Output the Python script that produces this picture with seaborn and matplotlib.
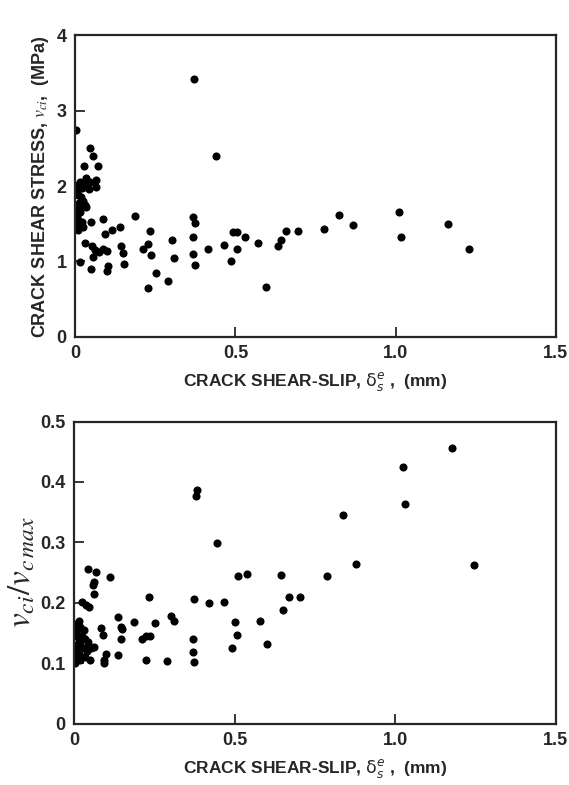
import numpy as np
import pandas as pd
import matplotlib
matplotlib.use("Agg")
import matplotlib.pyplot as plt
import seaborn as sns

# top panel: crack shear stress (MPa) vs crack shear-slip (mm)
slip_top = [
    0.372, 0.002, 0.438, 0.045, 0.057, 0.029, 0.071, 0.034, 0.065, 0.047,
    0.065, 0.005, 0.042, 0.003, 0.008, 0.015, 0.020, 0.010, 0.018, 0.025,
    0.012, 0.030, 0.020, 0.008, 0.015, 0.005, 0.010, 0.020, 0.005, 0.015,
    0.025, 0.010, 0.003, 0.035, 0.040, 0.028, 0.050, 0.086, 0.187, 0.114,
    0.140, 0.093, 0.031, 0.052, 0.062, 0.075, 0.088, 0.098, 0.016, 0.050,
    0.055, 0.104, 0.101, 0.142, 0.149, 0.151, 0.213, 0.227, 0.234, 0.236,
    0.227, 0.252, 0.289, 0.301, 0.309, 0.367, 0.374, 0.367, 0.367, 0.374,
    0.416, 0.463, 0.494, 0.504, 0.485, 0.504, 0.531, 0.572, 0.594, 0.634,
    0.642, 0.658, 0.696, 0.776, 0.823, 0.866, 1.009, 1.018, 1.163, 1.230,
]
stress_top = [
    3.42, 2.75, 2.40, 2.51, 2.40, 2.26, 2.26, 2.11, 2.08, 2.05,
    1.99, 1.92, 1.96, 1.95, 2.02, 2.05, 1.98, 1.88, 1.85, 1.80,
    1.78, 1.75, 1.72, 1.70, 1.65, 1.60, 1.55, 1.52, 1.50, 1.47,
    1.45, 1.42, 1.45, 1.72, 1.98, 2.05, 1.52, 1.56, 1.60, 1.42,
    1.45, 1.36, 1.25, 1.21, 1.15, 1.13, 1.17, 1.14, 0.99, 0.90,
    1.06, 0.94, 0.87, 1.20, 1.11, 0.96, 1.17, 1.23, 1.40, 1.08,
    0.65, 0.85, 0.74, 1.29, 1.04, 1.59, 1.51, 1.33, 1.10, 0.95,
    1.17, 1.22, 1.39, 1.39, 1.00, 1.16, 1.33, 1.24, 0.66, 1.21,
    1.29, 1.41, 1.40, 1.43, 1.62, 1.48, 1.65, 1.32, 1.50, 1.16,
]

# bottom panel: normalised shear stress vs crack shear-slip (mm)
slip_bot = [
    0.383, 0.379, 0.444, 0.044, 0.070, 0.063, 0.060, 0.063, 0.113, 0.026,
    0.037, 0.047, 0.235, 0.374, 0.419, 0.466, 0.512, 0.538, 0.645, 0.668,
    0.705, 0.652, 0.138, 0.186, 0.252, 0.302, 0.310, 0.501, 0.580, 0.147,
    0.149, 0.084, 0.089, 0.147, 0.213, 0.225, 0.236, 0.371, 0.508, 0.600,
    0.491, 0.369, 0.374, 0.138, 0.100, 0.092, 0.094, 0.225, 0.289, 0.052,
    0.063, 0.050, 0.005, 0.015, 0.020, 0.010, 0.030, 0.005, 0.025, 0.015,
    0.035, 0.005, 0.020, 0.010, 0.030, 0.005, 0.015, 0.025, 0.010, 0.020,
    0.035, 0.003, 0.040, 0.045, 1.178, 1.023, 1.031, 0.836, 0.879, 0.788,
    1.245,
]
ratio_bot = [
    0.386, 0.376, 0.299, 0.256, 0.251, 0.235, 0.230, 0.215, 0.242, 0.202,
    0.197, 0.194, 0.210, 0.206, 0.199, 0.202, 0.244, 0.247, 0.246, 0.210,
    0.210, 0.188, 0.177, 0.168, 0.167, 0.179, 0.170, 0.169, 0.170, 0.160,
    0.156, 0.159, 0.147, 0.140, 0.140, 0.145, 0.145, 0.140, 0.147, 0.132,
    0.125, 0.119, 0.103, 0.114, 0.115, 0.105, 0.101, 0.106, 0.104, 0.125,
    0.127, 0.105, 0.165, 0.170, 0.160, 0.155, 0.155, 0.145, 0.145, 0.140,
    0.140, 0.130, 0.130, 0.125, 0.125, 0.115, 0.115, 0.110, 0.105, 0.105,
    0.110, 0.100, 0.120, 0.135, 0.456, 0.425, 0.364, 0.345, 0.265, 0.244,
    0.262,
]

x_ticks = [0, 0.5, 1.0, 1.5]
x_tick_labels = ["0", "0.5", "1.0", "1.5"]
y_ticks_top = [0, 1, 2, 3, 4]
y_ticks_bot = [0, 0.1, 0.2, 0.3, 0.4, 0.5]
y_tick_labels_bot = ["0", "0.1", "0.2", "0.3", "0.4", "0.5"]

sns.set_style("ticks")
plt.rcParams["font.family"] = ["Liberation Sans", "DejaVu Sans"]
plt.rcParams["mathtext.fontset"] = "stix"
plt.rcParams["axes.linewidth"] = 1.6
plt.rcParams["xtick.major.width"] = 1.3
plt.rcParams["ytick.major.width"] = 1.3

top_df = pd.DataFrame({"slip": slip_top, "stress": stress_top})
bot_df = pd.DataFrame({"slip": slip_bot, "ratio": ratio_bot})

fig = plt.figure(figsize=(5.69, 7.85), dpi=100)
ax1 = fig.add_axes([0.132, 0.571, 0.845, 0.384])
ax2 = fig.add_axes([0.130, 0.078, 0.847, 0.385])

sns.scatterplot(data=top_df, x="slip", y="stress", ax=ax1, color="black",
                s=34, edgecolor="black", linewidth=0, legend=False)
sns.scatterplot(data=bot_df, x="slip", y="ratio", ax=ax2, color="black",
                s=34, edgecolor="black", linewidth=0, legend=False)

xlabel = r"CRACK SHEAR-SLIP, $\mathrm{\delta}_{\mathit{s}}^{\mathit{e}}$ ,  (mm)"
for ax in (ax1, ax2):
    ax.set_xlim(0, 1.5)
    ax.set_xticks(x_ticks)
    ax.set_xticklabels(x_tick_labels)
    ax.tick_params(direction="in", length=7, labelsize=13, pad=6)
    ax.set_xlabel(xlabel, fontsize=12.5, fontweight="bold", labelpad=6)
    for sp in ax.spines.values():
        sp.set_visible(True)
    ax.xaxis.label.set_math_fontfamily("dejavusans")

ax1.set_ylim(0, 4)
ax1.set_yticks(y_ticks_top)
ax1.set_yticklabels([str(v) for v in y_ticks_top])
ax1.set_ylabel(r"CRACK SHEAR STRESS, $\mathit{v_{ci}}$,  (MPa)",
               fontsize=13, fontweight="bold", labelpad=4)

ax2.set_ylim(0, 0.5)
ax2.set_yticks(y_ticks_bot)
ax2.set_yticklabels(y_tick_labels_bot)
ax2.set_ylabel(r"$v_{ci}/v_{c\,max}$", fontsize=24, labelpad=2)

for ax in (ax1, ax2):
    for lab in ax.get_xticklabels() + ax.get_yticklabels():
        lab.set_fontweight("bold")

fig.savefig("out.png", dpi=100)
